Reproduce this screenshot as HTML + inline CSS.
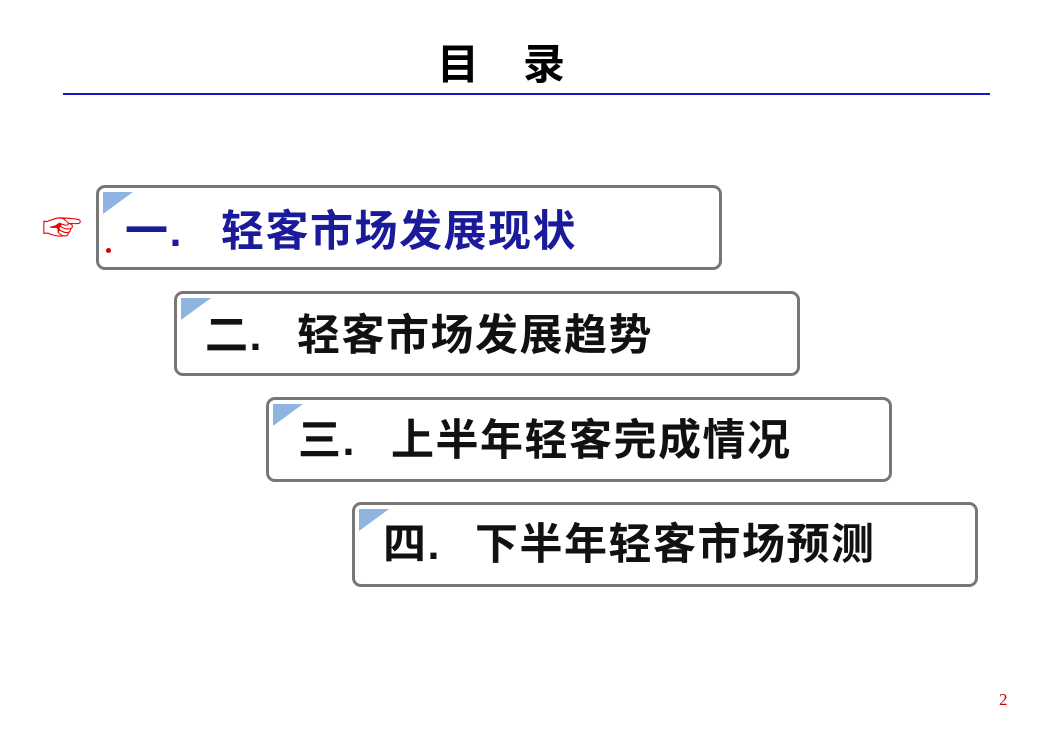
<!DOCTYPE html>
<html><head><meta charset="utf-8"><style>
body{margin:0;width:1052px;height:744px;background:#fff;position:relative;overflow:hidden;font-family:"Liberation Sans","Noto Sans CJK SC",sans-serif;}
.t{position:absolute;font-weight:bold;white-space:nowrap;line-height:1;}
.box{position:absolute;width:620px;height:79px;border:3px solid #777;border-radius:9px;background:#fff;}
.tri{position:absolute;left:4px;top:4px;width:0;height:0;border-top:22px solid #8fb4e0;border-right:30px solid transparent;}
.m{font-size:43px;letter-spacing:1.5px;}
</style></head><body>
<div class="t" style="left:437px;top:44px;font-size:42px;">目</div>
<div class="t" style="left:523px;top:44px;font-size:42px;">录</div>
<div style="position:absolute;left:63px;top:93px;width:927px;height:2px;background:#1515d0;"></div>

<div class="box" style="left:96px;top:185px;"><div class="tri"></div></div>
<div class="box" style="left:174px;top:291px;"><div class="tri"></div></div>
<div class="box" style="left:266px;top:397px;"><div class="tri"></div></div>
<div class="box" style="left:352px;top:502px;"><div class="tri"></div></div>

<div style="position:absolute;left:106px;top:248px;width:5px;height:5px;border-radius:50%;background:#d00;"></div>
<div class="t" style="left:42px;top:208px;font-size:40px;color:#e00;font-weight:normal;">☞</div>

<div class="t m" style="left:125px;top:211px;color:#1a1a9a;">一.</div>
<div class="t m" style="left:221px;top:211px;color:#1a1a9a;">轻客市场发展现状</div>

<div class="t m" style="left:205px;top:315px;color:#111;">二.</div>
<div class="t m" style="left:297px;top:315px;color:#111;">轻客市场发展趋势</div>

<div class="t m" style="left:298px;top:420px;color:#111;">三.</div>
<div class="t m" style="left:391px;top:420px;color:#111;">上半年轻客完成情况</div>

<div class="t m" style="left:383px;top:524px;color:#111;">四.</div>
<div class="t m" style="left:475px;top:524px;color:#111;">下半年轻客市场预测</div>

<div style="position:absolute;left:999px;top:690px;font-family:'Liberation Serif',serif;font-size:17px;color:#c00;">2</div>
</body></html>
